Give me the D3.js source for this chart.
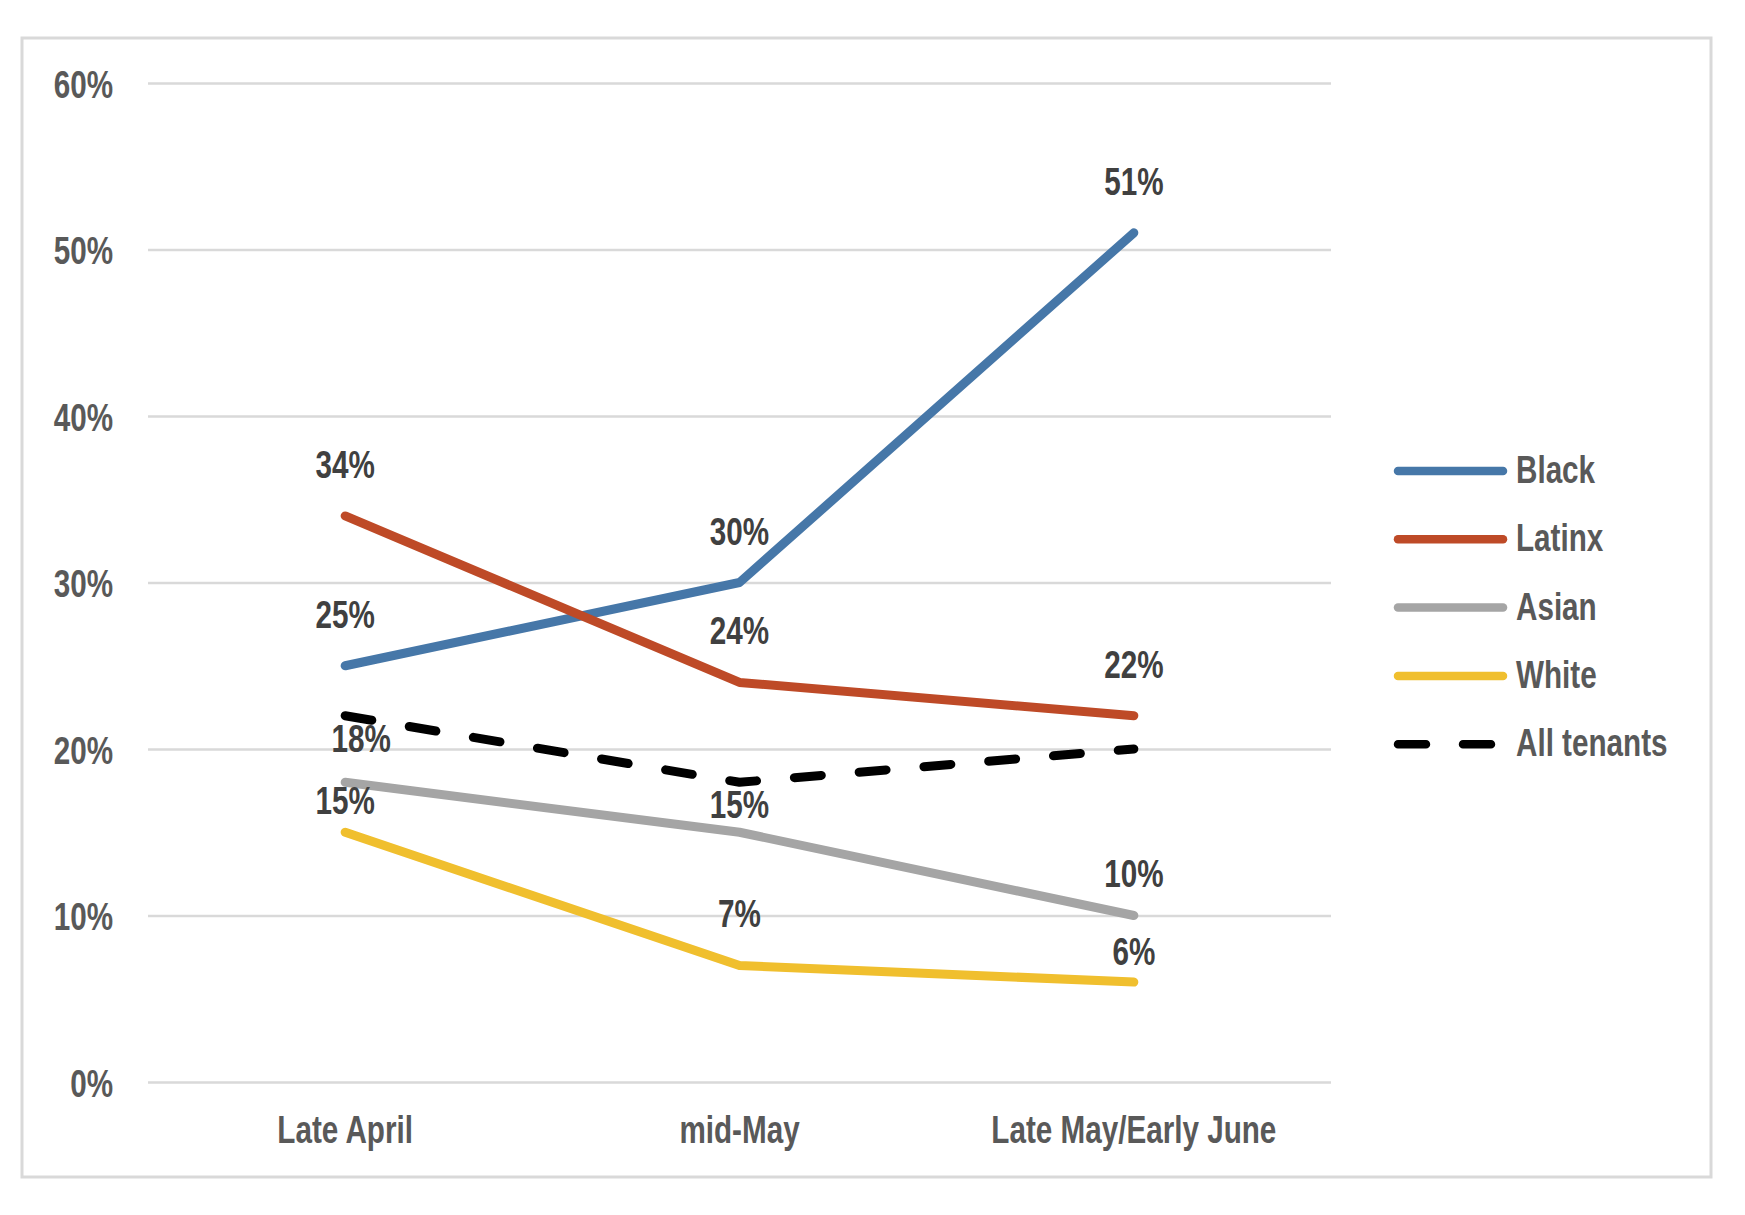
<!DOCTYPE html>
<html>
<head>
<meta charset="utf-8">
<script src="https://cdn.jsdelivr.net/npm/d3@7"></script>
<style>
  body { margin: 0; background: #fff; }
  svg text { font-family: 'Liberation Sans', Arial, sans-serif; font-weight: bold; }
</style>
</head>
<body>
<div id="chart"></div>
<script>
// data
const periods = ["Late April", "mid-May", "Late May/Early June"]
const black = [0.25, 0.30, 0.51]
const latinx = [0.34, 0.24, 0.22]
const asian = [0.18, 0.15, 0.10]
const white = [0.15, 0.07, 0.06]
const allTenants = [0.22, 0.18, 0.20]
const yTicks = [0, 0.1, 0.2, 0.3, 0.4, 0.5, 0.6]

const series = [
    { name: "Black", values: black, color: "#4677A8", dash: null, labels: true },
    { name: "Latinx", values: latinx, color: "#BE4A27", dash: null, labels: true },
    { name: "Asian", values: asian, color: "#A5A5A5", dash: null, labels: true },
    { name: "White", values: white, color: "#F0BF2E", dash: null, labels: true },
    { name: "All tenants", values: allTenants, color: "#000000", dash: "27,38", labels: false }
]

// hand-moved labels (dx, dy) so they don't sit on other lines
const nudge = {
    "Asian": [[16, 8], [0, 24], [0, 9]],
    "White": [[0, 20], [0, 0], [0, 21]]
}

const width = 1745
const height = 1215
const plot = { left: 148, right: 1331, top: 83, bottom: 1082 }
const fontSize = 38

// no condensed font installed, so squeeze the glyphs
function narrow(sel) {
    sel.each(function () {
        const w = this.getComputedTextLength()
        this.setAttribute("textLength", w * 0.78)
        this.setAttribute("lengthAdjust", "spacingAndGlyphs")
    })
}

const svg = d3.select("#chart")
    .append("svg")
    .attr("width", width)
    .attr("height", height)

// outer frame
svg.append("rect")
    .attr("x", 22).attr("y", 38)
    .attr("width", 1689).attr("height", 1139)
    .attr("fill", "none")
    .attr("stroke", "#D9D9D9")
    .attr("stroke-width", 3)

const x = d3.scaleBand()
    .domain(periods)
    .range([plot.left, plot.right])
const xc = d => x(d) + x.bandwidth() / 2

const y = d3.scaleLinear()
    .domain([0, 0.6])
    .range([plot.bottom, plot.top])

// Y axis + gridlines
const yAxis = svg.append("g")
    .attr("transform", "translate(" + plot.left + ",0)")
    .call(d3.axisLeft(y)
        .tickValues(yTicks)
        .tickFormat(d3.format(".0%"))
        .tickSize(-(plot.right - plot.left))
        .tickPadding(35))
yAxis.select(".domain").remove()
yAxis.selectAll(".tick line")
    .attr("stroke", "#D9D9D9")
    .attr("stroke-width", 2.5)
yAxis.selectAll(".tick text")
    .attr("fill", "#595959")
    .attr("font-size", fontSize)
    .attr("dy", "0.38em")
    .call(narrow)

// X axis
const xAxis = svg.append("g")
    .attr("transform", "translate(0," + plot.bottom + ")")
    .call(d3.axisBottom(x).tickSize(0).tickPadding(34))
xAxis.select(".domain").remove()
xAxis.selectAll(".tick text")
    .attr("fill", "#595959")
    .attr("font-size", fontSize)
    .call(narrow)

// lines
const line = d3.line()
    .x((d, i) => xc(periods[i]))
    .y(d => y(d))

svg.append("g")
    .selectAll("path")
    .data(series).enter()
    .append("path")
    .attr("d", d => line(d.values))
    .attr("fill", "none")
    .attr("stroke", d => d.color)
    .attr("stroke-width", 9)
    .attr("stroke-linecap", "round")
    .attr("stroke-linejoin", "round")
    .attr("stroke-dasharray", d => d.dash)

// data labels
const labelData = []
series.filter(s => s.labels).forEach(function (s) {
    s.values.forEach(function (v, i) {
        const n = nudge[s.name] ? nudge[s.name][i] : [0, 0]
        labelData.push({ v: v, i: i, dx: n[0], dy: n[1] })
    })
})

svg.append("g")
    .selectAll("text")
    .data(labelData).enter()
    .append("text")
    .attr("x", d => xc(periods[d.i]) + d.dx)
    .attr("y", d => y(d.v) - 38 + d.dy)
    .attr("text-anchor", "middle")
    .attr("fill", "#404040")
    .attr("font-size", fontSize)
    .text(d => d3.format(".0%")(d.v))
    .call(narrow)

// legend
const legend = svg.append("g")
    .selectAll("g")
    .data(series).enter()
    .append("g")
    .attr("transform", (d, i) => "translate(1398," + (471 + i * 68.3) + ")")

legend.append("line")
    .attr("x1", 0).attr("x2", 105)
    .attr("stroke", d => d.color)
    .attr("stroke-width", 8.5)
    .attr("stroke-linecap", "round")
    .attr("stroke-dasharray", d => d.dash ? "28,37" : null)

legend.append("text")
    .attr("x", 118)
    .attr("y", 12)
    .attr("fill", "#595959")
    .attr("font-size", fontSize)
    .text(d => d.name)
    .call(narrow)
</script>
</body>
</html>
